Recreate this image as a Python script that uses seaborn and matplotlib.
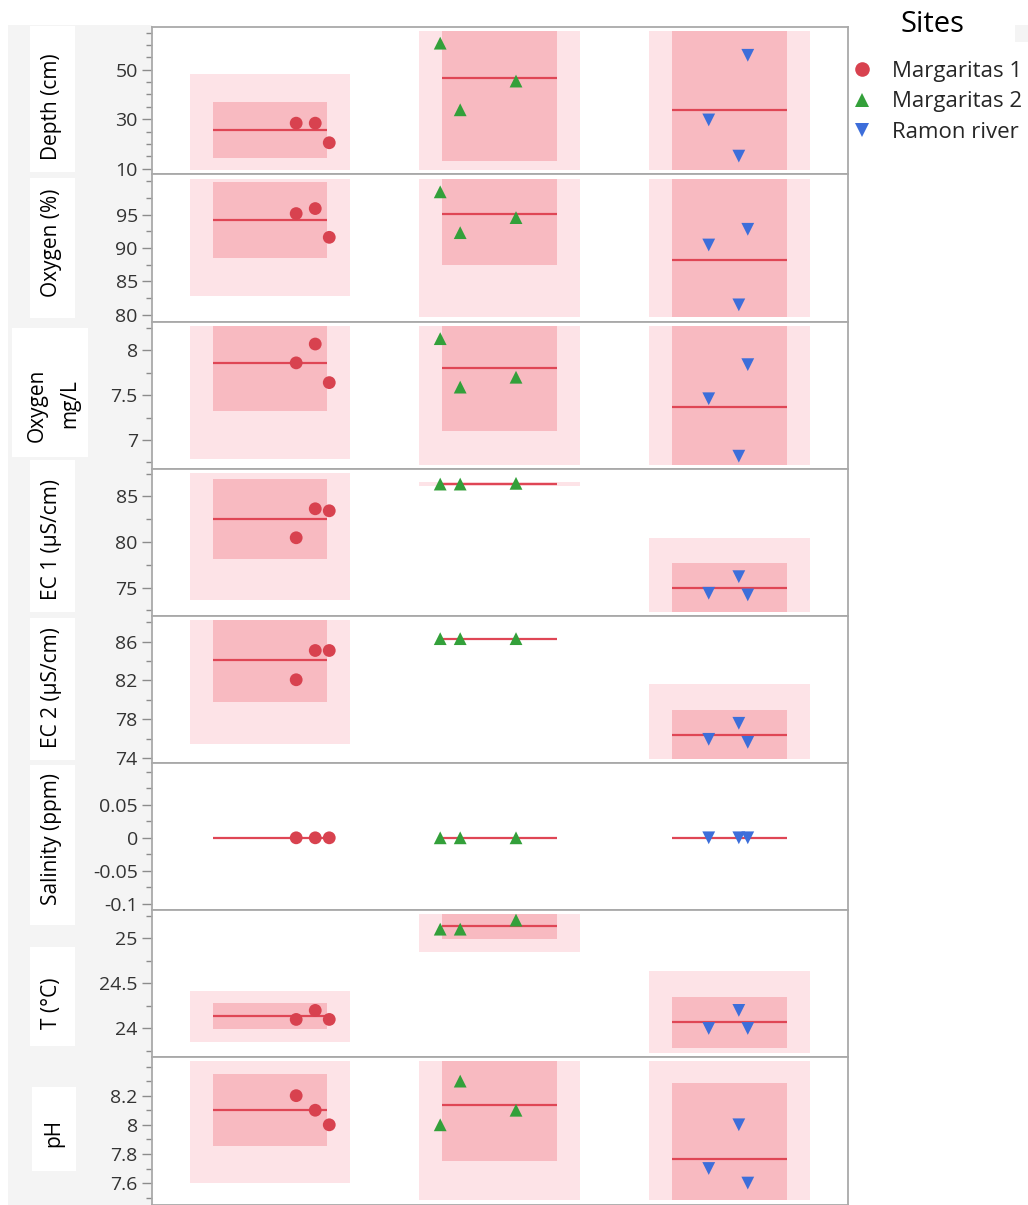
import numpy as np
import pandas as pd
import matplotlib
matplotlib.use("Agg")
import matplotlib.pyplot as plt
from matplotlib.patches import Rectangle
from matplotlib.ticker import FixedLocator, MultipleLocator, FuncFormatter
import seaborn as sns

# ---------------- data ----------------
sites = ["Margaritas 1", "Margaritas 2", "Ramon river"]

variables = ["Depth", "Oxygen %", "Oxygen mg/L", "EC 1", "EC 2", "Salinity", "T", "pH"]

depth_m1 = [28.4, 28.4, 20.5]
depth_m2 = [60.7, 33.8, 45.4]
depth_rr = [29.7, 15.1, 55.8]

oxy_pct_m1 = [95.15, 95.9, 91.6]
oxy_pct_m2 = [98.4, 92.3, 94.55]
oxy_pct_rr = [90.45, 81.5, 92.8]

oxy_mgl_m1 = [7.86, 8.07, 7.64]
oxy_mgl_m2 = [8.13, 7.59, 7.70]
oxy_mgl_rr = [7.46, 6.82, 7.84]

ec1_m1 = [80.47, 83.65, 83.43]
ec1_m2 = [86.36, 86.36, 86.44]
ec1_rr = [74.38, 76.2, 74.2]

ec2_m1 = [82.07, 85.08, 85.08]
ec2_m2 = [86.3, 86.3, 86.3]
ec2_rr = [75.94, 77.59, 75.63]

sal_m1 = [0.0, 0.0, 0.0]
sal_m2 = [0.0, 0.0, 0.0]
sal_rr = [0.0, 0.0, 0.0]

temp_m1 = [24.1, 24.2, 24.1]
temp_m2 = [25.1, 25.1, 25.2]
temp_rr = [24.0, 24.2, 24.0]

ph_m1 = [8.2, 8.1, 8.0]
ph_m2 = [8.0, 8.3, 8.1]
ph_rr = [7.7, 8.0, 7.6]

panel_values = {
    "Depth": (depth_m1, depth_m2, depth_rr),
    "Oxygen %": (oxy_pct_m1, oxy_pct_m2, oxy_pct_rr),
    "Oxygen mg/L": (oxy_mgl_m1, oxy_mgl_m2, oxy_mgl_rr),
    "EC 1": (ec1_m1, ec1_m2, ec1_rr),
    "EC 2": (ec2_m1, ec2_m2, ec2_rr),
    "Salinity": (sal_m1, sal_m2, sal_rr),
    "T": (temp_m1, temp_m2, temp_rr),
    "pH": (ph_m1, ph_m2, ph_rr),
}

# horizontal jitter of the three samples inside each site column
jitter = {
    "Margaritas 1": [0.114, 0.197, 0.258],
    "Margaritas 2": [-0.259, -0.172, 0.071],
    "Ramon river": [-0.090, 0.041, 0.080],
}

# axis settings per panel
y_limits = [(7.7, 67.1), (79.0, 101.0), (6.68, 8.32), (71.9, 88.04),
            (73.5, 88.64), (-0.110, 0.1136), (23.68, 25.31), (7.453, 8.463)]
major_ticks = [[10, 30, 50], [80, 85, 90, 95], [7, 7.5, 8], [75, 80, 85],
               [74, 78, 82, 86], [-0.1, -0.05, 0, 0.05], [24, 24.5, 25],
               [7.6, 7.8, 8, 8.2]]
minor_steps = [5, 2.5, 0.25, 2.5, 2, 0.025, 0.25, 0.1]

# long table
rows = []
for var in variables:
    for si, site in enumerate(sites):
        for k, v in enumerate(panel_values[var][si]):
            rows.append({"variable": var, "site": site, "sample": k,
                         "x": si + jitter[site][k], "value": v})
df = pd.DataFrame(rows)

# ---------------- style ----------------
sns.set_theme(style="white")
plt.rcParams["font.family"] = ["Open Sans", "DejaVu Sans"]

palette = {"Margaritas 1": "#D8424F", "Margaritas 2": "#33A03A", "Ramon river": "#3D6EDA"}
markers = {"Margaritas 1": "o", "Margaritas 2": "^", "Ramon river": "v"}
line_red = "#DF4655"
ci_color = "#F8BAC1"
pi_color = "#FDE3E7"
frame_gray = "#A9A9A9"
text_col = "#333333"

T975_DF2 = 4.302653  # Student t, 97.5% quantile, 2 degrees of freedom

W, H = 1028, 1205
fig = plt.figure(figsize=(W / 100, H / 100), dpi=100)
fig.patch.set_facecolor("white")


def fx(x):
    return x / W


def fy(y):
    return 1 - y / H


def fig_rect(x0, y0, x1, y1, color):
    fig.patches.append(Rectangle((fx(x0), fy(y1)), fx(x1) - fx(x0), (y1 - y0) / H,
                                 transform=fig.transFigure, facecolor=color,
                                 edgecolor="none", zorder=-5))


# grey strip behind the axis labels
fig_rect(8, 25, 152, H, "#F4F4F4")
fig_rect(1015, 25, W, 42, "#F4F4F4")

label_boxes = [(30, 26, 75, 172), (30, 178, 75, 318), (12, 328, 88, 457),
               (30, 460, 75, 612), (30, 618, 75, 760), (30, 765, 75, 925),
               (30, 947, 75, 1046), (32, 1087, 76, 1171)]
for b in label_boxes:
    fig_rect(*b, "white")

label_size = 15
y_label_text = ["Depth (cm)", "Oxygen (%)", None, "EC 1 (µS/cm)", "EC 2 (µS/cm)",
                "Salinity (ppm)", "T (°C)", "pH"]
y_label_pos = [(52, 107), (52, 243), None, (52, 539), (52, 688), (52, 839),
               (52, 1003), (54, 1133)]
for txt, pos in zip(y_label_text, y_label_pos):
    if txt is None:
        continue
    fig.text(fx(pos[0]), fy(pos[1]), txt, rotation=90, ha="center", va="center",
             fontsize=label_size, color="black")
fig.text(fx(37), fy(405), "Oxygen", rotation=90, ha="center", va="center",
         fontsize=label_size, color="black")
fig.text(fx(70), fy(404), "mg/L", rotation=90, ha="center", va="center",
         fontsize=label_size, color="black")

# ---------------- panels ----------------
left_px, right_px = 151.7, 847.7
top_px, panel_h = 27.3, 147.15
pad_frac = 0.028

axes = []
for k, var in enumerate(variables):
    y0 = top_px + k * panel_h
    ax = fig.add_axes([fx(left_px), fy(y0 + panel_h), fx(right_px) - fx(left_px), panel_h / H])
    ax.set_facecolor("white")
    lo, hi = y_limits[k]
    rng = hi - lo
    clip_lo, clip_hi = lo + pad_frac * rng, hi - pad_frac * rng

    # interval boxes and mean lines computed from the samples
    for si, site in enumerate(sites):
        vals = np.asarray(panel_values[var][si], dtype=float)
        n = len(vals)
        m = vals.mean()
        s = vals.std(ddof=1)
        ci = T975_DF2 * s / np.sqrt(n)
        pi = T975_DF2 * s * np.sqrt(1 + 1 / n)
        for half_w, half_h, col, z in [(0.35, pi, pi_color, 1), (0.25, ci, ci_color, 2)]:
            b_lo = max(m - half_h, clip_lo)
            b_hi = min(m + half_h, clip_hi)
            if b_hi > b_lo:
                ax.add_patch(Rectangle((si - half_w, b_lo), 2 * half_w, b_hi - b_lo,
                                       facecolor=col, edgecolor="none", zorder=z))
        ax.hlines(m, si - 0.25, si + 0.25, color=line_red, lw=1.6, zorder=3)

    sub = df[df["variable"] == var]
    sns.scatterplot(data=sub, x="x", y="value", hue="site", style="site",
                    hue_order=sites, style_order=sites, palette=palette,
                    markers=markers, s=85, linewidth=0, zorder=4,
                    legend=(k == 0), ax=ax)

    ax.set_xlim(-0.515, 2.515)
    ax.set_ylim(lo, hi)
    ax.set_xticks([])
    ax.set_xlabel("")
    ax.set_ylabel("")
    ax.yaxis.set_major_locator(FixedLocator(major_ticks[k]))
    ax.yaxis.set_minor_locator(MultipleLocator(minor_steps[k]))
    ax.yaxis.set_major_formatter(FuncFormatter(lambda v, p: f"{v:g}"))
    ax.tick_params(axis="y", which="major", left=True, labelleft=True, length=7,
                   width=1, color="#8C8C8C", labelsize=14, labelcolor=text_col, pad=3)
    ax.tick_params(axis="y", which="minor", left=True, length=4, width=1, color="#8C8C8C")
    for sp in ax.spines.values():
        sp.set_color(frame_gray)
        sp.set_linewidth(1.3)
    axes.append(ax)

# legend
fig.text(fx(932), fy(24), "Sites", ha="center", va="center", fontsize=21, color="black")
sns.move_legend(axes[0], "upper left", bbox_to_anchor=(fx(849), fy(61)),
                bbox_transform=fig.transFigure, title="", frameon=False,
                fontsize=16, handletextpad=0.75, labelspacing=0.42,
                borderpad=0, borderaxespad=0, handlelength=1.2)
leg = axes[0].get_legend()
for h in leg.legend_handles:
    try:
        h.set_sizes([115])
    except AttributeError:
        h.set_markersize(10.5)

fig.savefig("out.png", dpi=100, facecolor="white")
